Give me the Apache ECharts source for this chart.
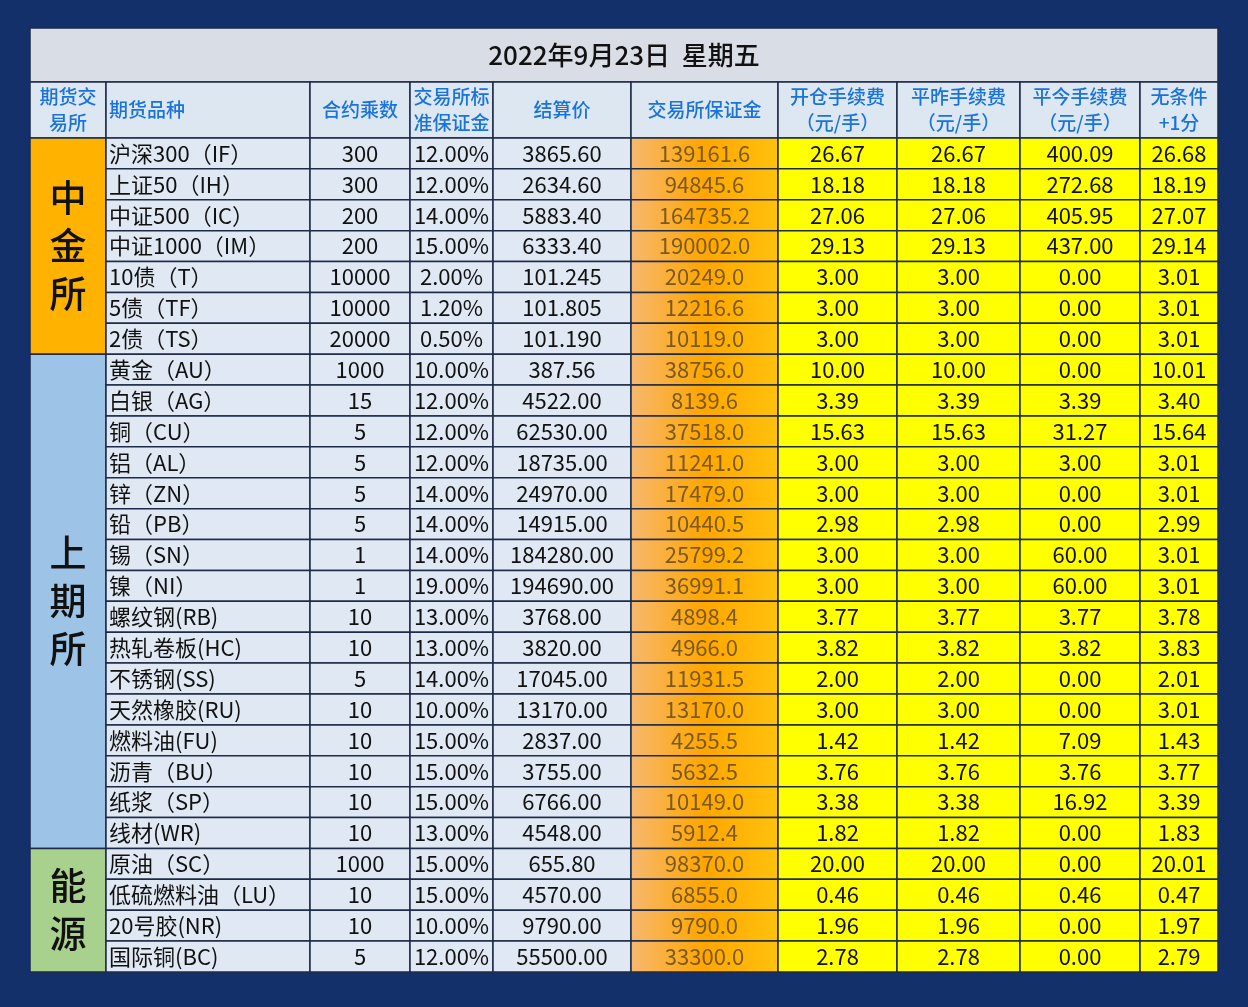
<!DOCTYPE html>
<html>
<head>
<meta charset="utf-8">
<script src="https://cdn.jsdelivr.net/npm/echarts@6/dist/echarts.min.js"></script>
<style>
html,body{margin:0;padding:0;background:#14306a;}
#main{width:1248px;height:1007px;}
</style>
</head>
<body>
<div id="main"></div>
<script>
// 表格数据
var title = '2022年9月23日  星期五';
var headers = ['期货交\n易所', '期货品种', '合约乘数', '交易所标\n准保证金', '结算价', '交易所保证金', '开仓手续费\n（元/手）', '平昨手续费\n（元/手）', '平今手续费\n（元/手）', '无条件\n+1分'];
var exchanges = [
    {name: '中\n金\n所', start: 0, end: 7, color: '#ffb300'},
    {name: '上\n期\n所', start: 7, end: 23, color: '#9dc3e6'},
    {name: '能\n源', start: 23, end: 27, color: '#a9d18e'}
];
var varieties = ['沪深300（IF）', '上证50（IH）', '中证500（IC）', '中证1000（IM）', '10债（T）', '5债（TF）', '2债（TS）',
    '黄金（AU）', '白银（AG）', '铜（CU）', '铝（AL）', '锌（ZN）', '铅（PB）', '锡（SN）', '镍（NI）', '螺纹钢(RB)', '热轧卷板(HC)',
    '不锈钢(SS)', '天然橡胶(RU)', '燃料油(FU)', '沥青（BU）', '纸浆（SP）', '线材(WR)',
    '原油（SC）', '低硫燃料油（LU）', '20号胶(NR)', '国际铜(BC)'];
var multipliers = ['300', '300', '200', '200', '10000', '10000', '20000', '1000', '15', '5', '5', '5', '5', '1', '1', '10', '10', '5', '10', '10', '10', '10', '10', '1000', '10', '10', '5'];
var marginRates = ['12.00%', '12.00%', '14.00%', '15.00%', '2.00%', '1.20%', '0.50%', '10.00%', '12.00%', '12.00%', '12.00%', '14.00%', '14.00%', '14.00%', '19.00%', '13.00%', '13.00%', '14.00%', '10.00%', '15.00%', '15.00%', '15.00%', '13.00%', '15.00%', '15.00%', '10.00%', '12.00%'];
var settles = ['3865.60', '2634.60', '5883.40', '6333.40', '101.245', '101.805', '101.190', '387.56', '4522.00', '62530.00', '18735.00', '24970.00', '14915.00', '184280.00', '194690.00', '3768.00', '3820.00', '17045.00', '13170.00', '2837.00', '3755.00', '6766.00', '4548.00', '655.80', '4570.00', '9790.00', '55500.00'];
var margins = ['139161.6', '94845.6', '164735.2', '190002.0', '20249.0', '12216.6', '10119.0', '38756.0', '8139.6', '37518.0', '11241.0', '17479.0', '10440.5', '25799.2', '36991.1', '4898.4', '4966.0', '11931.5', '13170.0', '4255.5', '5632.5', '10149.0', '5912.4', '98370.0', '6855.0', '9790.0', '33300.0'];
var openFees = ['26.67', '18.18', '27.06', '29.13', '3.00', '3.00', '3.00', '10.00', '3.39', '15.63', '3.00', '3.00', '2.98', '3.00', '3.00', '3.77', '3.82', '2.00', '3.00', '1.42', '3.76', '3.38', '1.82', '20.00', '0.46', '1.96', '2.78'];
var closeYestFees = ['26.67', '18.18', '27.06', '29.13', '3.00', '3.00', '3.00', '10.00', '3.39', '15.63', '3.00', '3.00', '2.98', '3.00', '3.00', '3.77', '3.82', '2.00', '3.00', '1.42', '3.76', '3.38', '1.82', '20.00', '0.46', '1.96', '2.78'];
var closeTodayFees = ['400.09', '272.68', '405.95', '437.00', '0.00', '0.00', '0.00', '0.00', '3.39', '31.27', '3.00', '0.00', '0.00', '60.00', '60.00', '3.77', '3.82', '0.00', '0.00', '7.09', '3.76', '16.92', '0.00', '0.00', '0.46', '0.00', '0.00'];
var plusOne = ['26.68', '18.19', '27.07', '29.14', '3.01', '3.01', '3.01', '10.01', '3.40', '15.64', '3.01', '3.01', '2.99', '3.01', '3.01', '3.78', '3.83', '2.01', '3.01', '1.43', '3.77', '3.39', '1.83', '20.01', '0.47', '1.97', '2.79'];

// 列边界与行高
var colEdges = [0, 76, 280, 380, 463, 601, 748, 867, 990, 1110, 1188];
var titleH = 54, headH = 56, rowH = 30.9;
var totalH = titleH + headH + rowH * varieties.length;

var marginGrad = new echarts.graphic.LinearGradient(0, 0, 1, 0, [
    {offset: 0, color: '#f6b870'}, {offset: 0.5, color: '#ffa600'}, {offset: 1, color: '#ffc20e'}
]);

var cells = [];
function cell(c0, c1, y0, y1, text, fill, color, font, align) {
    cells.push({value: [c0, c1, y0, y1], text: text, fill: fill, color: color, font: font, align: align || 'center'});
}
cell(0, 10, 0, titleH, title, '#d9dde6', '#111', '500 26px "Noto Sans CJK SC"');
headers.forEach(function (h, i) {
    cell(i, i + 1, titleH, titleH + headH, h, '#dde7f2', '#1a73d9', '500 19px "Noto Sans CJK SC"', i == 1 ? 'left' : 'center');
});
exchanges.forEach(function (e) {
    cell(0, 1, titleH + headH + e.start * rowH, titleH + headH + e.end * rowH, e.name, e.color, '#111', '500 37px "Noto Sans CJK SC"');
});
var cols = [varieties, multipliers, marginRates, settles, margins, openFees, closeYestFees, closeTodayFees, plusOne];
var dataFont = '22px "Noto Sans CJK SC"';
for (var r = 0; r < varieties.length; r++) {
    var y0 = titleH + headH + r * rowH;
    for (var c = 0; c < cols.length; c++) {
        var fill = c < 4 ? '#dfe8f3' : (c == 4 ? marginGrad : '#ffff00');
        var color = c == 4 ? '#7d5a1a' : '#111';
        cell(c + 1, c + 2, y0, y0 + rowH, cols[c][r], fill, color, dataFont, c == 0 ? 'left' : 'center');
    }
}

var chart = echarts.init(document.getElementById('main'));
var option = {
    backgroundColor: '#14306a',
    animation: false,
    grid: {left: 30, right: 30, top: 28, bottom: 35},
    xAxis: {type: 'value', min: 0, max: 1188, show: false},
    yAxis: {type: 'value', min: 0, max: totalH, inverse: true, show: false},
    series: [{
        type: 'custom',
        data: cells,
        renderItem: function (params, api) {
            var d = cells[params.dataIndex];
            var p0 = api.coord([colEdges[d.value[0]], d.value[2]]);
            var p1 = api.coord([colEdges[d.value[1]], d.value[3]]);
            var w = p1[0] - p0[0], h = p1[1] - p0[1];
            var tx = d.align == 'left' ? p0[0] + 3 : p0[0] + w / 2;
            return {
                type: 'group',
                children: [{
                    type: 'rect',
                    shape: {x: p0[0], y: p0[1], width: w, height: h},
                    style: {fill: d.fill, stroke: '#1e2b48', lineWidth: 1.5}
                }, {
                    type: 'text',
                    style: {
                        x: tx, y: p0[1] + h / 2, text: d.text, font: d.font, fill: d.color,
                        align: d.align, verticalAlign: 'middle', lineHeight: d.font.indexOf('37px') >= 0 ? 48 : 26
                    }
                }]
            };
        }
    }]
};
chart.setOption(option);
</script>
</body>
</html>
